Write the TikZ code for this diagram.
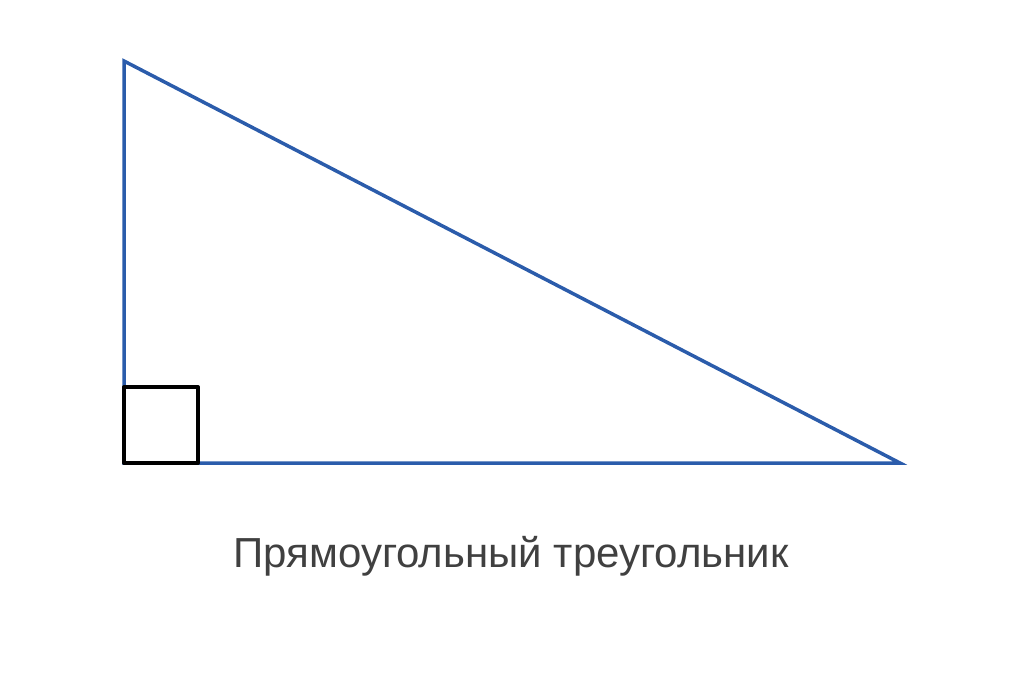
\documentclass[tikz,border=0pt]{standalone}
\usepackage{fontspec}
\setmainfont{Liberation Sans}
\definecolor{legblue}{rgb}{0.17,0.36,0.67}
\definecolor{capgray}{rgb}{0.25,0.25,0.25}

\begin{document}
\begin{tikzpicture}[x=1pt, y=-1pt]
	\useasboundingbox (0,0) rectangle (1014,694);
	\coordinate (a) at (124,61);
	\coordinate (b) at (124,463);
	\coordinate (c) at (900,463);
	\coordinate (q) at (198,387);

	\draw[color=legblue, line width=3.5pt]  (a) -- (b) -- (c) -- cycle;
	\draw[color=black, line width=4pt, line join=round]  (b) rectangle (q);
	\node[color=capgray, font=\fontsize{42}{48}\selectfont] (cap) at (511,556) {Прямоугольный треугольник};
\end{tikzpicture}
\end{document}
